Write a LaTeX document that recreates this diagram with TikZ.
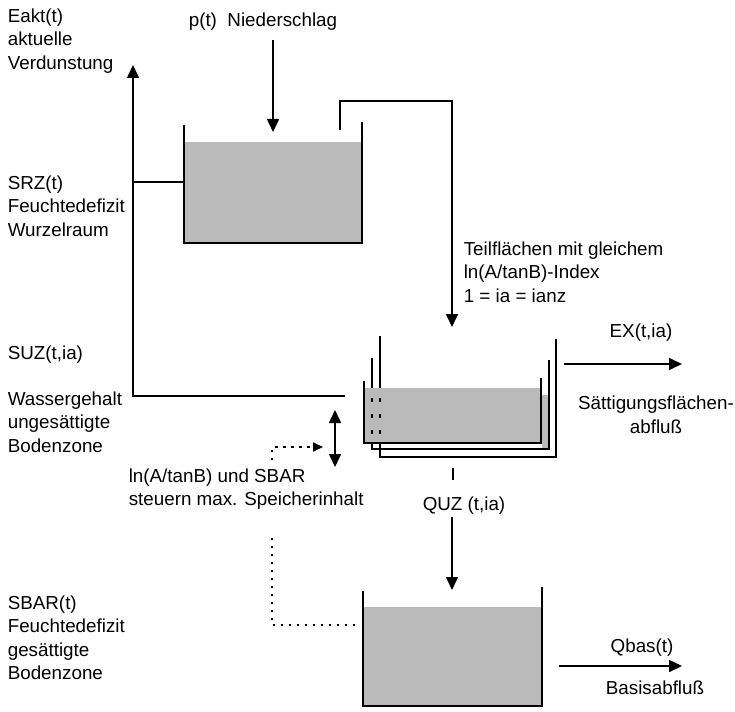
\documentclass[tikz,border=0pt]{standalone}
\usepackage{fontspec}
\setmainfont{Liberation Sans}
\usetikzlibrary{arrows.meta,positioning}

\begin{document}
\begin{tikzpicture}[x=1pt, y=-1pt, line width=1.6pt,
    >={Triangle[width=12pt,length=13pt]},
    lbl/.style={font=\fontsize{18.8}{23.5}\selectfont, inner sep=0pt, align=left, anchor=west},
    wall/.style={line width=2.2pt},
    water/.style={fill=black!27},
    ctrl/.style={line width=1.8pt, dash pattern=on 2.5pt off 5.5pt}]
    \useasboundingbox (0,0) rectangle (735,711);

    % 上部储水箱 (SRZ)
    \coordinate (SrzTL) at (184,125);
    \coordinate (SrzBL) at (184,243);
    \coordinate (SrzBR) at (362,243);
    \coordinate (SrzTR) at (362,122);
    \fill[water] (185,142) rectangle (361,242);
    \draw[wall] (SrzTL) -- (SrzBL) -- (SrzBR) -- (SrzTR);

    % 叠放的三个储水箱 (SUZ)
    \draw[wall] (380,336) -- (380,457) -- (556,457) -- (556,339);
    \draw[wall] (372,358) -- (372,449) -- (549,449) -- (549,360);
    \fill[water] (365,388) rectangle (540,442);
    \fill[water] (542,395) rectangle (548,448);
    \draw[wall, dash pattern=on 4pt off 12pt] (372,398) -- (372,442);
    \draw[wall, dash pattern=on 4pt off 12pt] (380,398) -- (380,442);
    \draw[wall] (364,381) -- (364,443) -- (541,443) -- (541,378);

    % 下部储水箱 (SBAR)
    \coordinate (BarTL) at (363,591);
    \coordinate (BarTR) at (542,587);
    \fill[water] (364,607) rectangle (541,705);
    \draw[wall] (BarTL) -- (363,706) -- (542,706) -- (BarTR);

    % 标注
    \node[lbl] (Eakt) at (7,41) {Eakt(t)\\aktuelle\\Verdunstung};
    \node[lbl] (Srz) at (7,206) {SRZ(t)\\Feuchtedefizit\\Wurzelraum};
    \node[lbl] (Suz) at (7,355) {SUZ(t,ia)};
    \node[lbl] (Wasser) at (7,422) {Wassergehalt\\ungesättigte\\Bodenzone};
    \node[lbl] (Sbar) at (7,638) {SBAR(t)\\Feuchtedefizit\\gesättigte\\Bodenzone};
    \node[lbl] (Nieder) at (188,22) {p(t)~~Niederschlag};
    \node[lbl] (Teil) at (463,272) {Teilflächen mit gleichem\\ln(A/tanB)-Index\\1 = ia = ianz};
    \node[lbl] (Steuer) at (128,489) {ln(A/tanB) und SBAR\\steuern max. Speicherinhalt};
    \node[lbl, anchor=center] (Ex) at (641,333) {EX(t,ia)};
    \node[lbl, anchor=center, align=center] (Sfl) at (656,415) {Sättigungsflächen-\\abfluß};
    \node[lbl, anchor=center] (Quz) at (464,506) {QUZ (t,ia)};
    \node[lbl, anchor=center] (Qbas) at (642,648) {Qbas(t)};
    \node[lbl, anchor=center] (Basis) at (655,688) {Basisabfluß};

    % 蒸发与连接线
    \coordinate (Corner) at (133,396);
    \coordinate (SuzEnd) at (345,396);
    \coordinate (EaktTip) at (133,65);
    \coordinate (SrzJoin) at (133,182);
    \draw[->] (SuzEnd) -- (Corner) -- (EaktTip);
    \draw (SrzJoin) -- (SrzTL |- SrzJoin);

    % 降水
    \draw[->] (273,40) -- (273,132);

    % 溢流到各子区域
    \draw[->] (340,130) -- (340,101) -- (452,101) -- (452,327);

    % 出流箭头
    \draw[->] (564,364) -- (682,364);
    \draw (453,468) -- (453,480);
    \draw[->] (452,517) -- (452,590);
    \draw[->] (559,666) -- (682,666);

    % 最大储量的控制
    \draw[<->] (335,410) -- (335,467);
    \draw[ctrl] (355,625) -- (272,625) -- (272,537);
    \draw[ctrl, -{Triangle[width=9pt,length=10pt]}] (272,460) -- (272,447) -- (323,447);
\end{tikzpicture}
\end{document}
